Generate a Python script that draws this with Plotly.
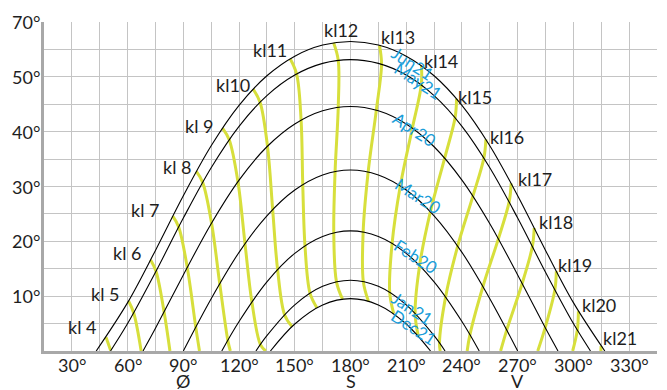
import plotly.graph_objects as go

# ---- sun-path curves: azimuth (deg) and altitude (deg) ----
jun_az = [43.1, 60, 75, 90, 105, 120, 135, 150, 165, 180, 195, 210, 225, 240, 255, 270, 285, 300, 316.9]
jun_alt = [0, 8.82, 18.35, 28.31, 37.43, 44.80, 50.19, 53.77, 55.79, 56.44, 55.79, 53.77, 50.19, 44.80, 37.43, 28.31, 18.35, 8.82, 0]
may_az = [50.8, 60, 75, 90, 105, 120, 135, 150, 165, 180, 195, 210, 225, 240, 255, 270, 285, 300, 309.2]
may_alt = [0, 5.00, 14.35, 24.24, 33.43, 40.98, 46.57, 50.32, 52.45, 53.14, 52.45, 50.32, 46.57, 40.98, 33.43, 24.24, 14.35, 5.00, 0]
apr_az = [68.3, 75, 90, 105, 120, 135, 150, 165, 180, 195, 210, 225, 240, 255, 270, 285, 291.7]
apr_alt = [0, 4.14, 13.87, 23.22, 31.17, 37.25, 41.41, 43.82, 44.60, 43.82, 41.41, 37.25, 31.17, 23.22, 13.87, 4.14, 0]
mar_az = [90, 105, 120, 135, 150, 165, 180, 195, 210, 225, 240, 255, 270]
mar_alt = [0, 9.54, 17.99, 24.66, 29.35, 32.10, 33.0, 32.10, 29.35, 24.66, 17.99, 9.54, 0]
feb_az = [110.7, 120, 135, 150, 165, 180, 195, 210, 225, 240, 249.3]
feb_alt = [0, 5.38, 12.62, 17.81, 20.89, 21.9, 20.89, 17.81, 12.62, 5.38, 0]
jan_az = [129.1, 135, 150, 165, 180, 195, 210, 225, 230.9]
jan_alt = [0, 2.80, 8.42, 11.79, 12.9, 11.79, 8.42, 2.80, 0]
dec_az = [136.9, 150, 165, 180, 195, 210, 223.1]
dec_alt = [0, 4.93, 8.41, 9.56, 8.41, 4.93, 0]

# ---- clock-hour positions on each date ----
jun_hr = [4, 5, 6, 7, 8, 9, 10, 11, 12, 13, 14, 15, 16, 17, 18, 19, 20, 21]
jun_hr_az = [48.4, 60.5, 72.4, 84.3, 97.0, 111.1, 127.6, 147.5, 170.9, 195.6, 218.2, 237.1, 252.9, 266.5, 278.9, 290.8, 302.7, 314.9]
jun_hr_alt = [2.49, 9.13, 16.60, 24.58, 32.74, 40.66, 47.77, 53.30, 56.21, 55.74, 52.03, 45.99, 38.59, 30.57, 22.43, 14.54, 7.26, 0.90]
may_hr = [4, 5, 6, 7, 8, 9, 10, 11, 12, 13, 14, 15, 16, 17, 18, 19, 20]
may_hr_az = [50.9, 63.3, 75.3, 87.5, 100.4, 114.7, 131.3, 151.0, 173.4, 196.7, 218.1, 236.3, 251.8, 265.4, 277.9, 290.0, 302.1]
may_hr_alt = [0.08, 6.93, 14.56, 22.62, 30.75, 38.53, 45.37, 50.51, 53.01, 52.28, 48.51, 42.52, 35.18, 27.19, 19.04, 11.13, 3.80]
apr_hr = [6, 7, 8, 9, 10, 11, 12, 13, 14, 15, 16, 17, 18, 19]
apr_hr_az = [79.65, 92.1, 105.2, 119.4, 135.3, 153.4, 173.4, 193.9, 213.3, 230.7, 245.9, 259.6, 272.4, 284.8]
apr_hr_alt = [7.12, 15.26, 23.32, 30.87, 37.36, 42.12, 44.45, 43.93, 40.65, 35.18, 28.24, 20.45, 12.32, 4.26]
mar_hr = [7, 8, 9, 10, 11, 12, 13, 14, 15, 16, 17, 18]
mar_hr_az = [96.7, 109.6, 123.2, 138.1, 154.3, 171.7, 189.5, 206.8, 223.0, 237.7, 251.3, 264.1]
mar_hr_alt = [4.35, 12.28, 19.59, 25.78, 30.33, 32.72, 32.64, 30.09, 25.41, 19.13, 11.77, 3.81]
feb_hr = [8, 9, 10, 11, 12, 13, 14, 15, 16, 17]
feb_hr_az = [113.95, 126.9, 140.75, 155.5, 171.0, 186.8, 202.4, 217.2, 231.2, 244.3]
feb_hr_alt = [1.94, 8.97, 14.86, 19.17, 21.53, 21.69, 19.63, 15.57, 9.87, 2.98]
jan_hr = [9, 10, 11, 12, 13, 14, 15, 16]
jan_hr_az = [131.5, 144.5, 158.2, 172.45, 186.9, 201.1, 214.8, 227.9]
jan_hr_alt = [1.17, 6.63, 10.54, 12.61, 12.66, 10.69, 6.85, 1.47]
dec_hr = [10, 11, 12, 13, 14, 15]
dec_hr_az = [148.5, 161.9, 175.7, 189.65, 203.3, 216.5]
dec_hr_alt = [4.46, 7.89, 9.47, 9.08, 6.77, 2.69]
# where an hour line meets the horizon
horizon_hr = [5, 6, 7, 8, 9, 16, 17, 18, 19, 20, 21]
horizon_az = [67.3, 82.8, 98.7, 115.3, 134.4, 228.3, 242.8, 260.8, 280.8, 299.6, 314.8]

# ---- labels ----
hour_label_text = ["kl 4", "kl 5", "kl 6", "kl 7", "kl 8", "kl 9", "kl10", "kl11", "kl12",
                   "kl13", "kl14", "kl15", "kl16", "kl17", "kl18", "kl19", "kl20", "kl21"]
hour_label_az = [35.2, 47.8, 59.7, 69.4, 86.5, 98.6, 117.0, 136.6, 175.0,
                 205.8, 228.8, 246.8, 264.4, 279.1, 290.8, 301.1, 314.0, 325.0]
hour_label_alt = [4.3, 10.4, 17.8, 25.7, 33.5, 41.1, 48.5, 54.9, 58.5,
                  57.2, 52.9, 46.3, 39.1, 31.3, 23.6, 15.7, 8.4, 2.3]
date_names = ["Jun21", "May21", "Apr20", "Mar20", "Feb20", "Jan21", "Dec21"]
date_label_az = [213.4, 216.1, 214.5, 216.1, 215.2, 213.4, 214.3]
date_label_alt = [52.5, 49.3, 40.4, 28.3, 17.2, 7.8, 4.3]

x_tick_vals = [30, 60, 90, 120, 150, 180, 210, 240, 270, 300, 330]
x_tick_text = ["30°", "60°", "90°", "120°", "150°", "180°", "210°", "240°", "270°", "300°", "330°"]
compass_az = [90, 180, 270]
compass_text = ["Ø", "S", "V"]
y_tick_vals = [10, 20, 30, 40, 50, 60]
y_tick_text = ["10°", "20°", "30°", "40°", "50°", "70°"]

YELLOW = "#d7df3c"
BLUE = "#1a9dd9"
FONT = "Lato"
TXT = "#1e1e1e"

fig = go.Figure()

hour_tables = [(jun_hr, jun_hr_az, jun_hr_alt), (may_hr, may_hr_az, may_hr_alt),
               (apr_hr, apr_hr_az, apr_hr_alt), (mar_hr, mar_hr_az, mar_hr_alt),
               (feb_hr, feb_hr_az, feb_hr_alt), (jan_hr, jan_hr_az, jan_hr_alt),
               (dec_hr, dec_hr_az, dec_hr_alt)]
for h in range(4, 22):
    xs, ys = [], []
    for hrs, azs, alts in hour_tables:
        if h in hrs:
            i = hrs.index(h)
            xs.append(azs[i])
            ys.append(alts[i])
    if h in horizon_hr:
        xs.append(horizon_az[horizon_hr.index(h)])
        ys.append(0)
    fig.add_trace(go.Scatter(x=xs, y=ys, mode="lines",
                             line=dict(color=YELLOW, width=3, shape="spline"),
                             hoverinfo="skip", showlegend=False))

for az, alt in [(jun_az, jun_alt), (may_az, may_alt), (apr_az, apr_alt), (mar_az, mar_alt),
                (feb_az, feb_alt), (jan_az, jan_alt), (dec_az, dec_alt)]:
    fig.add_trace(go.Scatter(x=az, y=alt, mode="lines",
                             line=dict(color="black", width=1.1, shape="spline"),
                             hoverinfo="skip", showlegend=False))

ann = []
for t, a, b in zip(hour_label_text, hour_label_az, hour_label_alt):
    ann.append(dict(x=a, y=b, text=t, showarrow=False, font=dict(family=FONT, size=18, color=TXT)))
for t, a, b in zip(date_names, date_label_az, date_label_alt):
    ann.append(dict(x=a, y=b, text=t, showarrow=False, textangle=33,
                    font=dict(family=FONT, size=17, color=BLUE)))
# axis labels (placed as text next to the axes)
for t, a in zip(x_tick_text, x_tick_vals):
    ann.append(dict(x=a, y=0, yref="paper", text=t, showarrow=False, yanchor="middle",
                    yshift=-14, font=dict(family=FONT, size=18, color=TXT)))
for t, a in zip(compass_text, compass_az):
    ann.append(dict(x=a, y=0, yref="paper", text=t, showarrow=False, yanchor="middle",
                    yshift=-30, font=dict(family=FONT, size=18, color=TXT)))
for t, b in zip(y_tick_text, y_tick_vals):
    ann.append(dict(x=0, xref="paper", y=b, text=t, showarrow=False, xanchor="right",
                    xshift=-2, yanchor="middle", font=dict(family=FONT, size=18, color=TXT)))

x_grid = list(range(15, 346, 15))
y_grid = list(range(0, 60, 5))

# the page body adds an 8 px offset, so the figure is sized to fit the 667x390 window
fig.update_layout(
    width=659, height=382,
    margin=dict(l=36, r=10, t=14, b=39),
    paper_bgcolor="white", plot_bgcolor="white",
    annotations=ann,
    xaxis=dict(range=[15, 345], tickvals=x_grid, showticklabels=False, showgrid=True,
               gridcolor="#c4c4c4", gridwidth=1, zeroline=False, showline=True,
               linecolor="#a8a8a8", linewidth=3, ticks=""),
    yaxis=dict(range=[0, 60], tickvals=y_grid, showticklabels=False, showgrid=True,
               gridcolor="#c4c4c4", gridwidth=1, zeroline=False, showline=True,
               linecolor="#a8a8a8", linewidth=3, ticks=""),
)

fig.write_html("out.html")
